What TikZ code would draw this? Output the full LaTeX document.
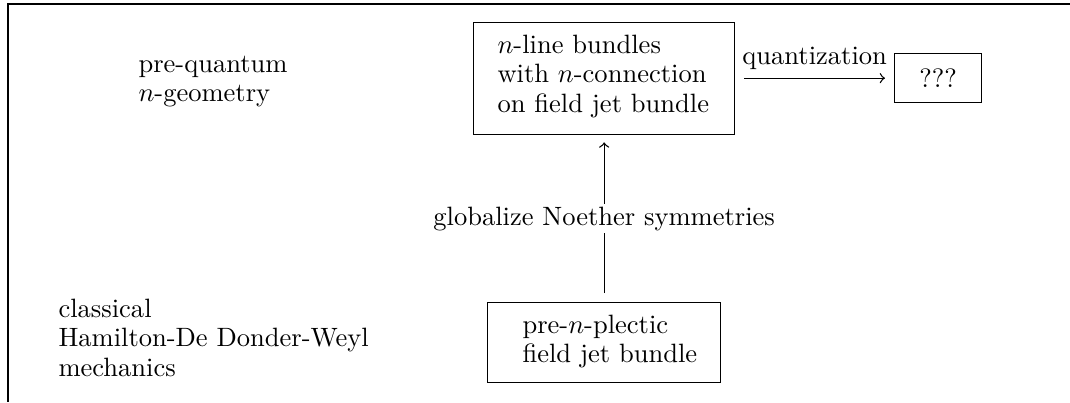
\documentclass[tikz,border=0pt]{standalone}
\newcommand\pxu{0.377pt}
\renewcommand\arraystretch{0.93}
\begin{document}
\begin{tikzpicture}[x=0.377pt,y=-0.377pt,
  box/.style={draw,line width=0.5pt,inner sep=0pt,anchor=north west},
  txt/.style={inner sep=0pt,anchor=base west},
  conn/.style={line width=0.5pt,->}]
\useasboundingbox (0,0) rectangle (1070,402);
\draw[line width=0.7pt] (1070,4) -- (8,4) -- (8,402);
% boxes
\node[box,minimum width=261*\pxu,minimum height=112*\pxu] (top) at (473,22) {};
\node[box,minimum width=233*\pxu,minimum height=80*\pxu] (bot) at (487,302) {};
\node[box,minimum width=87*\pxu,minimum height=49*\pxu] (qq) at (894,53) {};
% texts
\node[txt] (pq) at (138,72) {\begin{tabular}[t]{@{}l@{}}pre-quantum\\ $n$-geometry\end{tabular}};
\node[txt] (toptxt) at (497,53) {\begin{tabular}[t]{@{}l@{}}$n$-line bundles\\ with $n$-connection\\ on field jet bundle\end{tabular}};
\node[txt] (bottxt) at (522,333) {\begin{tabular}[t]{@{}l@{}}pre-$n$-plectic\\ field jet bundle\end{tabular}};
\node[txt] (cl) at (58,317) {\begin{tabular}[t]{@{}l@{}}classical\\ Hamilton-De Donder-Weyl\\ mechanics\end{tabular}};
\node[inner sep=0pt] (qqtxt) at (qq.center) {???};
% connectors
\draw[conn,shorten <=9*\pxu,shorten >=7*\pxu] (bot.north) -- (top.south)
  node[midway,fill=white,inner sep=1pt] (gl) {globalize Noether symmetries};
\draw[conn,shorten <=9*\pxu,shorten >=9*\pxu] (top.east|-qq.west) -- (qq.west)
  node[midway,above,inner sep=3pt] (qz) {quantization};
\end{tikzpicture}
\end{document}
